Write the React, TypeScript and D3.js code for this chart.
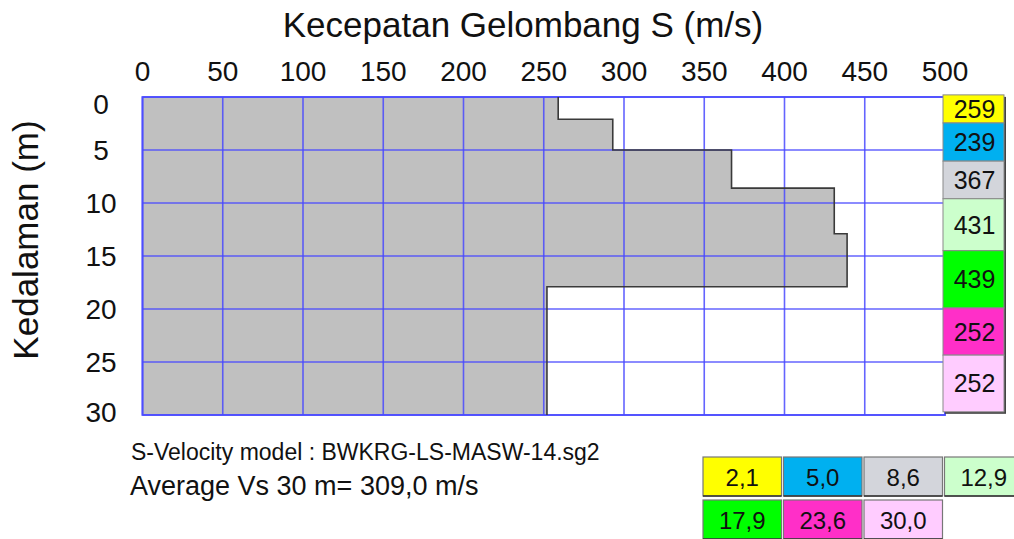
import React from "react";
import * as d3 from "d3";

// ---- data ----
const layerBottoms = [2.1, 5.0, 8.6, 12.9, 17.9, 23.6, 30.0]; // depth (m)
const layerVs = [259, 293, 367, 431, 439, 252, 252]; // drawn velocities (m/s)
const layerLabels = ["259", "239", "367", "431", "439", "252", "252"]; // printed labels
const layerColors = ["#ffff00", "#00b0f0", "#d3d5db", "#ccffcc", "#00ff00", "#ff2fc8", "#ffccff"];
const xTicks = [0, 50, 100, 150, 200, 250, 300, 350, 400, 450, 500];
const yTicks = [0, 5, 10, 15, 20, 25, 30];
const modelName = "S-Velocity model : BWKRG-LS-MASW-14.sg2";
const averageVs = 309.0;
// depth edges of the side label column (layout of the software's label boxes)
const labelBoxDepths = [-0.2, 2.45, 6.05, 9.6, 14.5, 19.9, 24.35, 29.7];

const W = 1014;
const H = 539;
const FONT = "'Liberation Sans', Arial, sans-serif";

export default function App() {
  const x = d3.scaleLinear().domain([0, 500]).range([142.5, 945]);
  const y = d3.scaleLinear().domain([0, 30]).range([97, 415]);

  // step profile points
  const pts: [number, number][] = [];
  let top = 0;
  layerVs.forEach((v, i) => {
    pts.push([v, top]);
    pts.push([v, layerBottoms[i]]);
    top = layerBottoms[i];
  });
  const line = d3
    .line<[number, number]>()
    .x((d) => x(d[0]))
    .y((d) => y(d[1]));
  const areaPts: [number, number][] = [[0, 0], ...pts, [0, 30]];
  const areaPath = line(areaPts) + "Z";
  const profilePath = line(pts) as string;

  const gridColor = "#4a4aff";
  const fmt = (v: number) => v.toFixed(1).replace(".", ",");

  // bottom legend layout
  const legW = 78.5;
  const legH = 39;
  const legItems = layerBottoms.map((d, i) => {
    const row = i < 4 ? 0 : 1;
    const col = i < 4 ? i : i - 4;
    return {
      x: 703 + col * (legW + 2),
      y: 457 + row * (legH + 4),
      text: fmt(d),
      color: layerColors[i],
    };
  });

  const colX0 = 943;
  const colX1 = 1004;

  return (
    <div style={{ position: "absolute", left: 0, top: 0 }}>
      <svg width={W} height={H} style={{ display: "block", background: "#fff" }}>
        {/* title */}
        <text x={523} y={37} textAnchor="middle" fontFamily={FONT} fontSize={35} fill="#111">
          Kecepatan Gelombang S (m/s)
        </text>
        {/* x tick labels */}
        {xTicks.map((t) => (
          <text key={t} x={x(t)} y={81} textAnchor="middle" fontFamily={FONT} fontSize={28} fill="#111">
            {t}
          </text>
        ))}
        {/* y tick labels */}
        {yTicks.map((t) => (
          <text
            key={t}
            x={101}
            y={Math.min(Math.max(y(t), 104), 412)}
            textAnchor="middle"
            dominantBaseline="central"
            fontFamily={FONT}
            fontSize={28}
            fill="#111"
          >
            {t}
          </text>
        ))}
        {/* y axis title */}
        <text
          transform={`translate(38,240) rotate(-90)`}
          textAnchor="middle"
          fontFamily={FONT}
          fontSize={35}
          fill="#111"
        >
          Kedalaman (m)
        </text>

        {/* profile fill */}
        <path d={areaPath} fill="#c0c0c0" stroke="none" />
        {/* grid */}
        {xTicks.map((t) => (
          <line key={"gx" + t} x1={x(t)} x2={x(t)} y1={y(0)} y2={y(30)} stroke={gridColor} strokeWidth={1.6} opacity={0.85} />
        ))}
        {yTicks.map((t) => (
          <line key={"gy" + t} x1={x(0)} x2={x(500)} y1={y(t)} y2={y(t)} stroke={gridColor} strokeWidth={1.6} opacity={0.85} />
        ))}
        <rect x={x(0)} y={y(0)} width={x(500) - x(0)} height={y(30) - y(0)} fill="none" stroke={gridColor} strokeWidth={2} opacity={0.85} />
        {/* profile outline */}
        <path d={profilePath} fill="none" stroke="#3a3a3a" strokeWidth={1.6} />

        {/* side label column */}
        <rect
          x={colX0 + 2}
          y={y(labelBoxDepths[0]) + 2}
          width={colX1 - colX0}
          height={y(labelBoxDepths[labelBoxDepths.length - 1]) - y(labelBoxDepths[0])}
          fill="#444"
        />
        {layerLabels.map((lab, i) => {
          const y0 = y(labelBoxDepths[i]);
          const y1 = y(labelBoxDepths[i + 1]);
          return (
            <g key={"lab" + i}>
              <rect x={colX0} y={y0} width={colX1 - colX0} height={y1 - y0} fill={layerColors[i]} stroke="#8a8a8a" strokeWidth={1} />
              <text
                x={(colX0 + colX1) / 2 + 1}
                y={(y0 + y1) / 2}
                textAnchor="middle"
                dominantBaseline="central"
                fontFamily={FONT}
                fontSize={25}
                fill="#111"
              >
                {lab}
              </text>
            </g>
          );
        })}

        {/* bottom texts */}
        <text x={131} y={460} fontFamily={FONT} fontSize={23} fill="#111">
          {modelName}
        </text>
        <text x={130} y={495} fontFamily={FONT} fontSize={27} fill="#111">
          {`Average Vs 30 m= ${fmt(averageVs)} m/s`}
        </text>

        {/* bottom depth legend */}
        {legItems.map((it, i) => (
          <g key={"leg" + i}>
            <rect x={it.x} y={it.y} width={legW} height={legH} fill={it.color} stroke="#777" strokeWidth={1.2} />
            <line x1={it.x} x2={it.x + legW} y1={it.y + legH} y2={it.y + legH} stroke="#333" strokeWidth={1.5} />
            <text
              x={it.x + legW / 2}
              y={it.y + legH / 2 + 1}
              textAnchor="middle"
              dominantBaseline="central"
              fontFamily={FONT}
              fontSize={24}
              fill="#111"
            >
              {it.text}
            </text>
          </g>
        ))}
      </svg>
    </div>
  );
}
